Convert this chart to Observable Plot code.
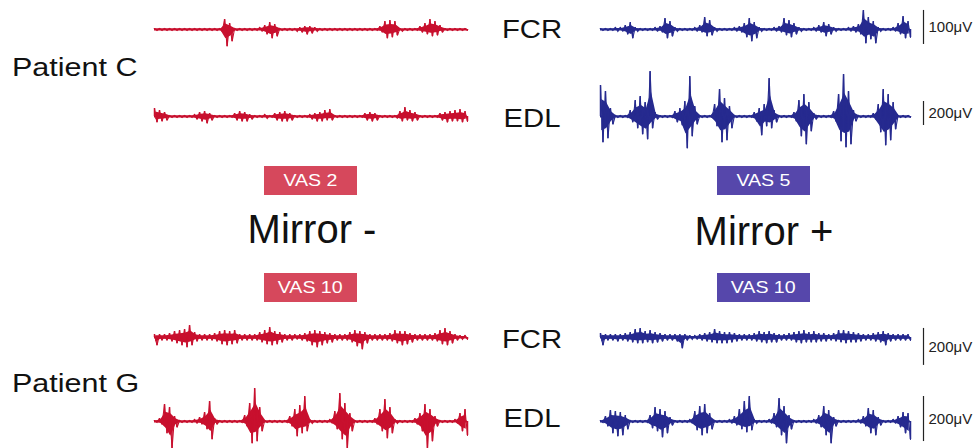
<!DOCTYPE html>
<html><head><meta charset="utf-8">
<script src="https://cdn.jsdelivr.net/npm/d3@7"></script>
<script src="https://cdn.jsdelivr.net/npm/@observablehq/plot@0.6"></script>
<style>
body{margin:0;background:#fff;}
#fig{position:relative;width:975px;height:448px;overflow:hidden;font-family:"Liberation Sans",Arial,Helvetica,sans-serif;background:#fff;}
.abs{position:absolute;}
.lbl{position:absolute;white-space:nowrap;line-height:1;color:#111;}
.box{position:absolute;color:#fff;display:flex;align-items:center;justify-content:center;line-height:1;}
#fig svg{overflow:visible;}
</style>
</head><body>
<div id="fig"></div>
<script>
// ---- DATA (peak amplitudes, one pair every 5 ms; unit = row gain in µV) ----
const step = 5;
const patients = ["Patient C", "Patient G"];
const muscles = ["FCR", "EDL", "FCR", "EDL"];
const conditions = ["Mirror -", "Mirror +"];
const vasC = ["VAS 2", "VAS 5"];
const vasG = ["VAS 10", "VAS 10"];
const rowGainUV = [2.94, 8.33, 5.41, 4.44];   // µV per amplitude unit
const scaleBarLabel = ["100μV", "200μV", "200μV", "200μV"];
const scaleBarValue = [100, 200, 200, 200];
const scaleBarLow = [-44, -75, -151, -89];

// Patient C, FCR
const cFcrMinusPos = [1,1,1,1,1,1,1,1,1,1,1,1,1,1,10,6,1,1,1,1,1,2,4,7,5,1,1,1,1,2,3,3,2,1,1,1,1,1,1,1,1,1,1,1,1,3,8,9,8,1,1,1,1,3,6,10,8,4,1,1,1,1,1];
const cFcrMinusNeg = [1,1,1,1,1,1,1,1,1,1,1,1,1,2,17,12,1,1,1,1,1,2,5,9,7,1,1,1,2,3,5,4,2,1,1,1,1,1,1,1,1,1,1,1,1,3,9,8,6,2,1,1,1,3,5,7,6,3,1,1,1,1,1];
const cFcrPlusPos = [1,1,1,2,2,4,7,2,1,1,1,2,3,11,8,2,1,1,1,2,4,12,9,2,1,1,1,2,3,6,11,7,2,1,1,2,3,11,9,6,2,1,1,2,4,7,5,2,1,1,2,3,5,19,12,8,2,1,1,2,6,13,8];
const cFcrPlusNeg = [1,1,1,2,2,5,9,2,1,1,1,2,3,9,7,2,1,1,1,2,3,7,6,2,1,1,1,2,3,8,12,9,2,1,1,2,3,6,8,5,2,1,1,2,3,7,5,2,1,1,2,3,5,14,10,14,2,1,1,2,5,9,8];
// Patient C, EDL
const cEdlMinusPos = [8,6,4,1,1,1,1,1,2,4,5,3,1,1,1,1,3,5,4,2,1,1,2,1,3,4,5,3,1,1,1,2,3,4,6,7,1,1,1,1,1,1,3,4,3,1,1,1,1,5,9,6,4,1,1,1,1,3,4,5,6,7,5];
const cEdlMinusNeg = [6,5,4,1,1,1,1,1,3,5,7,4,1,1,1,1,4,5,5,3,1,1,2,1,4,5,5,4,1,1,1,3,5,5,4,4,1,1,1,1,1,1,4,5,4,1,1,1,2,5,4,5,4,1,1,1,1,4,6,5,5,6,5];
const cEdlPlusPos = [31,25,8,1,1,1,6,16,20,14,45,4,1,1,1,5,8,15,40,10,1,1,1,12,27,18,10,1,1,1,1,4,8,12,38,6,1,1,1,4,16,22,14,3,1,1,1,5,22,42,25,6,1,1,1,3,12,27,22,14,1,1,1];
const cEdlPlusNeg = [26,22,8,1,1,1,6,12,18,23,12,3,1,1,1,6,9,32,20,8,1,1,1,10,26,24,12,1,1,1,1,5,19,10,12,6,1,1,1,5,20,28,15,3,1,1,1,5,25,31,28,5,1,1,1,3,16,29,24,13,1,1,1];
// Patient G, FCR
const gFcrMinusPos = [3,3,3,4,6,7,8,12,5,3,3,3,4,6,7,6,7,3,3,3,3,5,7,10,6,5,3,3,3,3,4,6,7,6,5,4,3,3,3,5,7,6,5,3,3,3,3,4,7,6,6,4,3,3,3,3,4,7,9,6,3,2,2];
const gFcrMinusNeg = [8,3,3,4,6,8,10,8,4,3,3,3,4,7,8,7,6,3,3,3,3,5,7,8,7,5,3,3,2,3,4,8,10,8,6,5,3,3,3,5,9,12,6,3,3,3,3,4,6,8,7,5,3,3,3,3,4,7,8,6,3,2,2];
const gFcrPlusPos = [4,3,3,3,3,4,5,8,9,6,7,5,4,3,3,3,3,3,2,2,3,4,5,8,6,5,5,4,3,3,3,4,6,5,6,4,3,3,4,5,6,7,5,6,4,4,3,4,7,7,6,5,4,3,3,4,5,6,4,3,3,3,3];
const gFcrPlusNeg = [8,3,3,4,3,4,5,6,6,5,6,5,4,3,3,4,11,3,2,2,3,4,5,6,6,6,5,4,3,3,3,4,5,6,5,5,3,3,3,5,6,5,5,5,4,4,3,4,5,6,5,5,4,3,3,4,5,8,4,3,3,3,3];
// Patient G, EDL
const gEdlMinusPos = [1,3,17,14,5,1,1,1,2,4,9,20,3,1,1,1,1,1,6,18,33,14,1,1,1,1,1,5,12,16,25,2,1,1,1,2,10,28,18,8,1,1,1,1,3,12,22,14,2,1,1,1,3,8,17,12,5,1,1,1,2,8,12];
const gEdlMinusNeg = [1,3,12,27,6,1,1,1,2,3,8,18,3,1,1,1,1,1,5,22,20,10,1,1,1,1,1,5,15,12,10,2,1,1,1,2,8,18,27,10,1,1,1,1,3,10,17,12,2,1,1,1,3,10,27,20,5,1,1,1,2,10,14];
const gEdlPlusPos = [1,5,11,10,9,6,1,1,1,1,6,14,12,10,4,1,1,1,2,10,15,17,8,1,1,1,2,5,12,20,25,2,1,1,2,8,23,15,6,1,1,1,1,2,6,15,11,4,1,1,1,1,2,5,13,11,4,1,1,2,5,9,8];
const gEdlPlusNeg = [1,5,12,15,14,8,1,1,1,1,7,10,16,12,4,1,1,1,2,9,14,12,8,1,1,1,2,4,8,11,9,2,1,1,2,6,14,22,8,1,1,1,1,2,6,14,22,5,1,1,1,1,2,5,12,14,4,1,1,2,6,12,18];

const traces = [
  [cFcrMinusPos, cFcrMinusNeg, cFcrPlusPos, cFcrPlusNeg],
  [cEdlMinusPos, cEdlMinusNeg, cEdlPlusPos, cEdlPlusNeg],
  [gFcrMinusPos, gFcrMinusNeg, gFcrPlusPos, gFcrPlusNeg],
  [gEdlMinusPos, gEdlMinusNeg, gEdlPlusPos, gEdlPlusNeg]
];

// ---- STYLE / LAYOUT ----
const red = "#c8102e", blue = "#262a8f";
const redBox = "#d6485c", blueBox = "#5647ab";
const rowBaseline = [29, 116, 337, 421];
const rowH = [56, 100, 60, 60];
const coreRatio = 0.55;   // visual density of the burst core
const FONT = "'Liberation Sans', Arial, Helvetica, sans-serif";

const fig = document.getElementById("fig");

function tracePlot(pos, neg, gain, color, H, width, mr, bar) {
  const zig = [], core = [];
  pos.forEach((p, i) => {
    zig.push({t: i * step, v: p * gain});
    zig.push({t: i * step + step / 2, v: -neg[i] * gain});
    core.push({t: i * step + step / 4, hi: p * gain, lo: -neg[i] * gain});
  });
  const tEnd = (pos.length - 0.5) * step;
  const marks = [
    Plot.ruleY([0], {stroke: color, strokeWidth: 2}),
    Plot.areaY(core, {x: "t", y1: d => d.lo * coreRatio, y2: d => d.hi * coreRatio, fill: color}),
    Plot.ruleX(zig, {x: "t", y1: 0, y2: "v", stroke: color, strokeWidth: 1.5}),
    Plot.line(zig, {x: "t", y: "v", stroke: color, strokeWidth: 1.1, strokeLinejoin: "miter", strokeMiterlimit: 2})
  ];
  if (bar) {
    marks.push(Plot.ruleX([bar], {x: () => tEnd, y1: d => d.low, y2: d => d.low + d.value, stroke: "#222", strokeWidth: 1.2, dx: 13}));
    marks.push(Plot.text([bar], {x: () => tEnd, y: d => d.low + d.value / 2, text: d => d.label, dx: 18, textAnchor: "start", fontSize: 15, fill: "#222"}));
  }
  return Plot.plot({
    width, height: H,
    marginLeft: 3, marginRight: mr, marginTop: 0, marginBottom: 0,
    style: {fontFamily: FONT, background: "transparent", overflow: "visible"},
    x: {domain: [0, tEnd], axis: null},
    y: {domain: [-H / 2 * gain, H / 2 * gain], axis: null},
    marks
  });
}

function place(el, left, top) {
  const d = document.createElement("div");
  d.className = "abs";
  d.style.left = left + "px"; d.style.top = top + "px";
  d.appendChild(el);
  fig.appendChild(d);
}

traces.forEach((tr, r) => {
  const H = rowH[r], top = rowBaseline[r] - H / 2, g = rowGainUV[r];
  place(tracePlot(tr[0], tr[1], g, red, H, 320, 4, null), 151, top);
  place(tracePlot(tr[2], tr[3], g, blue, H, 373, 60,
    {label: scaleBarLabel[r], value: scaleBarValue[r], low: scaleBarLow[r]}), 597, top);
});

function label(text, opt) {
  const d = document.createElement("div");
  d.className = "lbl";
  d.textContent = text;
  d.style.fontSize = opt.size + "px";
  d.style.top = (opt.capTop - 0.13 * opt.size) + "px";
  if (opt.center != null) {
    d.style.left = opt.center + "px";
    d.style.transform = `translateX(-50%) scaleX(${opt.sx || 1})`;
    d.style.transformOrigin = "center";
  } else {
    d.style.left = opt.left + "px";
    d.style.transform = `scaleX(${opt.sx || 1})`;
    d.style.transformOrigin = "left";
  }
  fig.appendChild(d);
}

label(patients[0], {left: 12, capTop: 58, size: 25, sx: 1.22});
label(patients[1], {left: 12, capTop: 374, size: 25, sx: 1.22});
const muscleCap = [20, 109, 330, 409];
muscles.forEach((m, i) => label(m, {center: 532, capTop: muscleCap[i], size: 25, sx: 1.17}));
label(conditions[0], {center: 312, capTop: 214, size: 40, sx: 1.0});
label(conditions[1], {center: 764, capTop: 216, size: 40, sx: 1.0});

function box(text, left, top, color) {
  const d = document.createElement("div");
  d.className = "box";
  d.style.left = left + "px"; d.style.top = top + "px";
  d.style.width = "93px"; d.style.height = "29px";
  d.style.background = color;
  const s = document.createElement("span");
  s.textContent = text;
  s.style.fontSize = "17px";
  s.style.display = "inline-block";
  s.style.transform = "scaleX(1.15)";
  d.appendChild(s);
  fig.appendChild(d);
}
box(vasC[0], 264, 166, redBox);
box(vasC[1], 717, 166, blueBox);
box(vasG[0], 264, 273, redBox);
box(vasG[1], 717, 273, blueBox);
</script>
</body></html>
